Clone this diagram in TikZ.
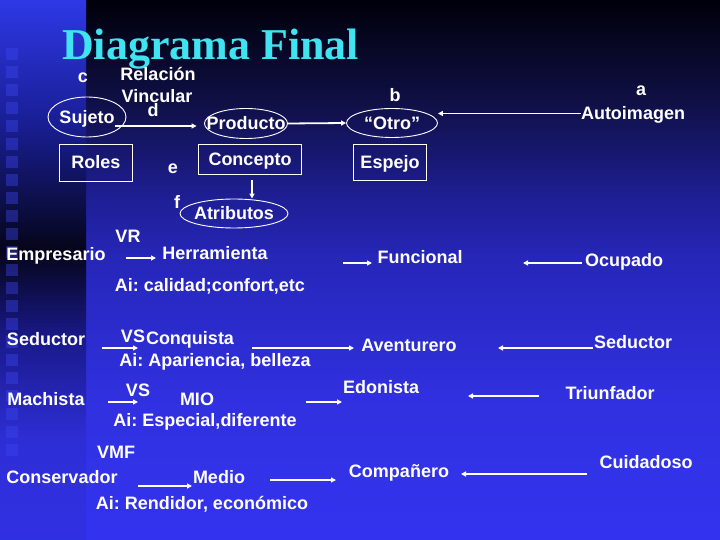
\documentclass[tikz,border=0pt]{standalone}
\usepackage{fontspec}
\setmainfont{Liberation Sans}
\newfontfamily\titlefont{Liberation Serif}
\usetikzlibrary{shapes.geometric,arrows.meta}
\frenchspacing
\pgfdeclareverticalshading{mainbg}{100bp}{rgb(0bp)=(0.2,0.2,0.94); rgb(25bp)=(0.2,0.2,0.94); rgb(37.96bp)=(0.19,0.19,0.88); rgb(50.93bp)=(0.15,0.15,0.73); rgb(56.48bp)=(0.12,0.12,0.59); rgb(65.74bp)=(0.06,0.06,0.27); rgb(75bp)=(0,0,0.04); rgb(100bp)=(0,0,0.04)}
\pgfdeclareverticalshading{stripbg}{100bp}{rgb(0bp)=(0.19,0.19,0.89); rgb(25bp)=(0.19,0.19,0.89); rgb(34.26bp)=(0.18,0.18,0.84); rgb(43.52bp)=(0.1,0.1,0.55); rgb(51.85bp)=(0.02,0.02,0.1); rgb(63.89bp)=(0.1,0.12,0.59); rgb(75bp)=(0.18,0.22,0.9); rgb(100bp)=(0.18,0.22,0.9)}
\definecolor{titlecyan}{RGB}{64,228,240}
\definecolor{sqblue}{RGB}{60,70,240}
\tikzset{
  txt/.style={text=white, font=\fontsize{18bp}{20bp}\selectfont\bfseries, inner sep=0pt, text height=13bp, text depth=0pt},
  ell/.style={txt, draw=white, line width=0.9bp, ellipse},
  box/.style={txt, draw=white, line width=0.9bp, rectangle},
  arr/.style={white, line width=1.8bp, -{Triangle[length=5bp,width=5bp]}},
  sq/.style={fill=sqblue, fill opacity=0.4}
}
\begin{document}
\begin{tikzpicture}[x=1bp,y=-1bp]
\useasboundingbox (0,0) rectangle (720,540);
% background
\shade[shading=mainbg] (86,0) rectangle (720,540);
\shade[shading=stripbg] (0,0) rectangle (86,540);
\foreach \k in {2,...,24} \fill[sq] (6,{12+18*\k}) rectangle ++(12,12);
% title
\node[anchor=base west, inner sep=0pt, text=titlecyan, font=\titlefont\fontsize{44bp}{48bp}\selectfont\bfseries] (title) at (62,60) {Diagrama Final};
% upper diagram
\node[txt] (c) at (83,76.5) {c};
\node[txt] (rel) at (158,74.5) {Relación};
\node[txt] (vin) at (157,96.5) {Vincular};
\node[txt] (d) at (153,110.5) {d};
\node[ell, minimum width=78bp, minimum height=40bp] (suj) at (87,117) {\makebox[0pt]{Sujeto}};
\node[ell, minimum width=83bp, minimum height=30bp] (prod) at (246,123.5) {\makebox[0pt]{Producto}};
\node[ell, minimum width=91bp, minimum height=29bp] (otro) at (392,123) {\makebox[0pt]{“Otro”}};
\node[txt] (b) at (395,95.5) {b};
\node[txt] (a) at (641,89.5) {a};
\node[txt] (auto) at (633,113.5) {Autoimagen};
\node[box, minimum width=73bp, minimum height=37bp] (roles) at (96,162.5) {Roles};
\node[box, minimum width=103bp, minimum height=30bp] (conc) at (250,159) {Concepto};
\node[box, minimum width=73bp, minimum height=36bp] (esp) at (390,162.5) {Espejo};
\node[txt] (e) at (173,167.5) {e};
\node[txt] (f) at (177,202.5) {f};
\node[ell, minimum width=108bp, minimum height=29bp] (atr) at (234,213.5) {\makebox[0pt]{Atributos}};
\coordinate (s1) at (115,126);
\draw[arr, shorten >=7.5bp] (s1) -- (prod.west |- s1);
\draw[arr] (prod.east) -- (otro.west);
\draw[arr] (auto.west) -- (auto.west -| otro.east);
\draw[arr] ([xshift=2bp,yshift=-6bp]conc.south) -- ([xshift=2bp]conc.south |- atr.north);
% lower part
\node[txt] (vr) at (128,236.5) {VR};
\node[txt] (emp) at (56,254.5) {Empresario};
\node[txt] (herr) at (215,253.5) {Herramienta};
\node[txt] (ai1) at (210,284.5) {Ai: calidad;confort,etc};
\node[txt] (func) at (420,257.5) {Funcional};
\node[txt] (ocu) at (624,260.5) {Ocupado};
\node[txt] (sedl) at (46,338.5) {Seductor};
\node[txt] (vs1) at (133,335.5) {VS};
\node[txt] (conq) at (190,337.5) {Conquista};
\node[txt] (ai2) at (215,359.5) {Ai: Apariencia, belleza};
\node[txt] (aven) at (409,344.5) {Aventurero};
\node[txt] (sedr) at (633,341.5) {Seductor};
\node[txt] (mach) at (46,398.5) {Machista};
\node[txt] (vs2) at (138,389.5) {VS};
\node[txt] (mio) at (197,398.5) {MIO};
\node[txt] (edo) at (381,386.5) {Edonista};
\node[txt] (triu) at (610,392.5) {Triunfador};
\node[txt] (ai3) at (205,419.5) {Ai: Especial,diferente};
\node[txt] (vmf) at (116,451.5) {VMF};
\node[txt] (cons) at (62,476.5) {Conservador};
\node[txt] (medio) at (219,476.5) {Medio};
\node[txt] (comp) at (399,470.5) {Compañero};
\node[txt] (cuid) at (646,461.5) {Cuidadoso};
\node[txt] (ai4) at (202,502.5) {Ai: Rendidor, económico};
% arrow end points
\coordinate (p1s) at (126,258); \coordinate (p1e) at (156,258);
\coordinate (p2s) at (343,263); \coordinate (p2e) at (372,263);
\coordinate (p3s) at (582,263); \coordinate (p3e) at (523,263);
\coordinate (p4s) at (102,348); \coordinate (p4e) at (138,348);
\coordinate (p5s) at (252,348); \coordinate (p5e) at (354,348);
\coordinate (p6s) at (593,348); \coordinate (p6e) at (498,348);
\coordinate (p7s) at (108,402); \coordinate (p7e) at (138,402);
\coordinate (p8s) at (306,402); \coordinate (p8e) at (342,402);
\coordinate (p9s) at (539,396); \coordinate (p9e) at (468,396);
\coordinate (p10s) at (138,486); \coordinate (p10e) at (192,486);
\coordinate (p11s) at (270,480); \coordinate (p11e) at (336,480);
\coordinate (p12s) at (587,474); \coordinate (p12e) at (461,474);
\foreach \i in {1,...,12} \draw[arr] (p\i s) -- (p\i e);
\end{tikzpicture}
\end{document}
